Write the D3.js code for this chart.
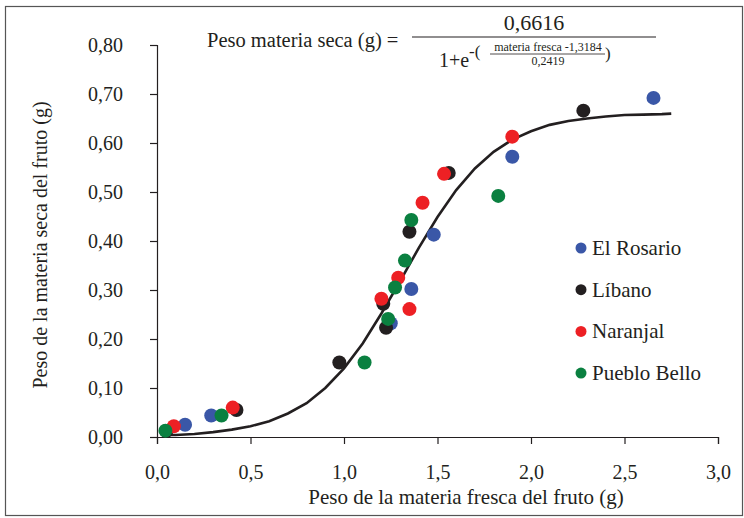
<!DOCTYPE html>
<html>
<head>
<meta charset="utf-8">
<script src="https://cdn.jsdelivr.net/npm/d3@7"></script>
<style>
  body { margin: 0; background: #fff; }
  svg text { font-family: "Liberation Serif", "DejaVu Serif", "Liberation Sans", serif; fill: #231f20; }
</style>
</head>
<body>
<div id="chart"></div>
<script>
// data
var series = ["El Rosario", "Líbano", "Naranjal", "Pueblo Bello"];
var colors = ["#3a57a7", "#231f20", "#ed2024", "#0a8040"];

var rosario = [[0.15, 0.025], [0.29, 0.044], [1.25, 0.232], [1.36, 0.302], [1.48, 0.413], [1.90, 0.572], [2.655, 0.692]];
var libano = [[0.05, 0.012], [0.425, 0.055], [0.975, 0.152], [1.225, 0.223], [1.21, 0.272], [1.35, 0.419], [1.56, 0.539], [2.28, 0.666]];
var naranjal = [[0.09, 0.022], [0.405, 0.060], [1.20, 0.282], [1.29, 0.325], [1.35, 0.261], [1.42, 0.478], [1.535, 0.537], [1.90, 0.613]];
var puebloBello = [[0.045, 0.013], [0.345, 0.044], [1.11, 0.152], [1.236, 0.241], [1.273, 0.305], [1.326, 0.360], [1.36, 0.443], [1.825, 0.492]];

// fitted curve as drawn
var curveX = [0.05, 0.1, 0.2, 0.3, 0.4, 0.5, 0.6, 0.7, 0.8, 0.9, 1.0, 1.1, 1.2, 1.3, 1.4, 1.5, 1.6, 1.7, 1.8, 1.9, 2.0, 2.1, 2.2, 2.3, 2.4, 2.5, 2.6, 2.7, 2.75];
var curveY = [0.004, 0.004, 0.006, 0.010, 0.015, 0.022, 0.032, 0.048, 0.069, 0.100, 0.140, 0.191, 0.252, 0.318, 0.386, 0.449, 0.504, 0.548, 0.582, 0.607, 0.624, 0.637, 0.645, 0.650, 0.654, 0.657, 0.658, 0.659, 0.660];

var xTicks = [0, 0.5, 1.0, 1.5, 2.0, 2.5, 3.0];
var yTicks = [0, 0.1, 0.2, 0.3, 0.4, 0.5, 0.6, 0.7, 0.8];

var width = 744, height = 518;
var margin = {top: 45, right: 26, bottom: 81, left: 157};
var serif = "'Liberation Serif', 'DejaVu Serif', 'Liberation Sans', serif";

var svg = d3.select("#chart")
  .append("svg")
    .attr("width", width)
    .attr("height", height)
    .style("font-family", serif);

// outer frame
svg.append("rect")
  .attr("x", 5.5).attr("y", 6.5)
  .attr("width", 737).attr("height", 509)
  .attr("fill", "none")
  .attr("stroke", "#555")
  .attr("stroke-width", 1.2);

var x = d3.scaleLinear()
  .domain([0, 3])
  .range([margin.left, width - margin.right]);

var y = d3.scaleLinear()
  .domain([0, 0.8])
  .range([height - margin.bottom, margin.top]);

var comma = function(f) { return function(d) { return d3.format(f)(d).replace(".", ","); }; };

var gx = svg.append("g")
  .attr("transform", "translate(0," + y(0) + ")")
  .call(d3.axisBottom(x).tickValues(xTicks).tickSize(7).tickPadding(21).tickFormat(comma(".1f")));

var gy = svg.append("g")
  .attr("transform", "translate(" + x(0) + ",0)")
  .call(d3.axisLeft(y).tickValues(yTicks).tickSize(7).tickPadding(27).tickFormat(comma(".2f")));

[gx, gy].forEach(function(g) {
  g.attr("font-family", null);
  g.selectAll("path, line").attr("stroke", "#231f20").attr("stroke-width", 1.2);
  g.selectAll("text").attr("font-size", 20).style("font-family", serif).attr("fill", "#231f20");
});

// axis titles
svg.append("text")
  .attr("x", 466).attr("y", 504)
  .attr("text-anchor", "middle")
  .attr("font-size", 21)
  .text("Peso de la materia fresca del fruto (g)");

svg.append("text")
  .attr("transform", "translate(47,245) rotate(-90)")
  .attr("text-anchor", "middle")
  .attr("font-size", 20)
  .text("Peso de la materia seca del fruto (g)");

// fitted curve
var line = d3.line()
  .x(function(d, i) { return x(curveX[i]); })
  .y(function(d) { return y(d); });

svg.append("path")
  .datum(curveY)
  .attr("d", line)
  .attr("fill", "none")
  .attr("stroke", "#231f20")
  .attr("stroke-width", 2.6);

// points: blue, black, red, green (green on top)
var allSeries = [rosario, libano, naranjal, puebloBello];
allSeries.forEach(function(s, i) {
  svg.selectAll(".pt" + i)
    .data(s)
    .enter()
    .append("circle")
      .attr("cx", function(d) { return x(d[0]); })
      .attr("cy", function(d) { return y(d[1]); })
      .attr("r", 7)
      .attr("fill", colors[i]);
});

// legend
var legend = svg.append("g").attr("transform", "translate(581,248)");
series.forEach(function(name, i) {
  legend.append("circle")
    .attr("cx", 0).attr("cy", i * 41.7)
    .attr("r", 5.5)
    .attr("fill", colors[i]);
  legend.append("text")
    .attr("x", 11).attr("y", i * 41.7 + 7)
    .attr("font-size", 21)
    .text(name);
});

// equation
var eq = svg.append("g");
eq.append("text")
  .attr("x", 207).attr("y", 47)
  .attr("font-size", 20.5)
  .text("Peso materia seca (g) =");
eq.append("line")
  .attr("x1", 412).attr("x2", 656)
  .attr("y1", 37).attr("y2", 37)
  .attr("stroke", "#231f20").attr("stroke-width", 1.2);
eq.append("text")
  .attr("x", 534).attr("y", 30)
  .attr("text-anchor", "middle")
  .attr("font-size", 22)
  .text("0,6616");
eq.append("text")
  .attr("x", 439).attr("y", 67)
  .attr("font-size", 20)
  .text("1+e");
eq.append("text")
  .attr("x", 469).attr("y", 57)
  .attr("font-size", 17)
  .text("-(");
eq.append("text")
  .attr("x", 548).attr("y", 51)
  .attr("text-anchor", "middle")
  .attr("font-size", 12)
  .text("materia fresca -1,3184");
eq.append("line")
  .attr("x1", 490).attr("x2", 605)
  .attr("y1", 54).attr("y2", 54)
  .attr("stroke", "#231f20").attr("stroke-width", 0.8);
eq.append("text")
  .attr("x", 548).attr("y", 65)
  .attr("text-anchor", "middle")
  .attr("font-size", 12)
  .text("0,2419");
eq.append("text")
  .attr("x", 605).attr("y", 59)
  .attr("font-size", 17)
  .text(")");
</script>
</body>
</html>
